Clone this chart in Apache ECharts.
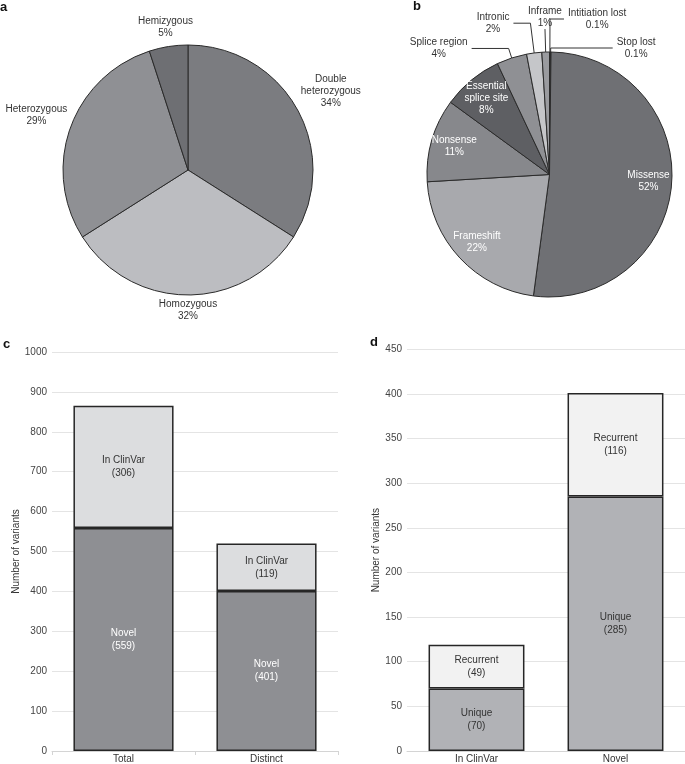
<!DOCTYPE html>
<html><head><meta charset="utf-8">
<script src="https://cdn.jsdelivr.net/npm/echarts@6/dist/echarts.min.js"></script>
<style>html,body{margin:0;padding:0;background:#fff}#c{width:685px;height:764px}</style>
</head><body><div id="c"></div>
<script>
// ---- data ----
const zygosityNames = ['Double\nheterozygous', 'Homozygous', 'Heterozygous', 'Hemizygous'];
const zygosityPct = [34, 32, 29, 5];
const consequenceNames = ['Intitiation lost', 'Stop lost', 'Missense', 'Frameshift', 'Nonsense', 'Essential\nsplice site', 'Splice region', 'Intronic', 'Inframe'];
const consequencePct = [0.1, 0.1, 52, 22, 11, 8, 4, 2, 1];
const countCategories = ['Total', 'Distinct'];
const novelCounts = [559, 401];
const clinvarCounts = [306, 119];
const recurrenceCategories = ['In ClinVar', 'Novel'];
const uniqueCounts = [70, 285];
const recurrentCounts = [49, 116];
const countAxis = { min: 0, max: 1000, interval: 100 };
const recurrenceAxis = { min: 0, max: 450, interval: 50 };

// ---- styles ----
const FONT = '"Liberation Sans", Arial, Helvetica, sans-serif';
const zygosityColors = ['#7b7c80', '#bcbdc1', '#8f9094', '#6e6f73'];
const consequenceColors = ['#48494d', '#333336', '#6f7074', '#a8a9ad', '#87888c', '#5e5f63', '#8f9094', '#c5c6c9', '#9a9b9f'];
const insideIdx = [2, 3, 4, 5];
const outerLines = { 0: [33, 14], 1: [4, 62], 6: [10, 37], 7: [30, 17], 8: [22, 0] };

const ctx = document.createElement('canvas').getContext('2d');
ctx.font = '10px ' + FONT;
function textW(s) { return Math.max.apply(null, String(s).split('\n').map(l => ctx.measureText(l).width)); }
function textH(s) { return String(s).split('\n').length * 12; }

const chart = echarts.init(document.getElementById('c'), null, { renderer: 'canvas' });

function pieALayout(p) {
  const pts = p.labelLinePoints;
  if (!pts) return {};
  const x0 = pts[0][0], y0 = pts[0][1];
  let dx = pts[1][0] - x0, dy = pts[1][1] - y0;
  const L = Math.hypot(dx, dy) || 1; dx /= L; dy /= L;
  const w = textW(p.text), h = textH(p.text);
  const t = 3 + Math.abs(dx) * w / 2 + Math.abs(dy) * h / 2;
  return { x: x0 + dx * t, y: y0 + dy * t, align: 'center', verticalAlign: 'middle' };
}
function pieBLayout(p) {
  if (p.dataIndex === 8 && p.labelLinePoints) {
    const q = p.labelLinePoints[1];
    return { x: q[0], y: q[1] - textH(p.text) / 2 - 1, align: 'center', verticalAlign: 'middle' };
  }
  return {};
}

const pieAData = zygosityNames.map((n, i) => ({ name: n, value: zygosityPct[i], itemStyle: { color: zygosityColors[i] } }));
const pieBData = consequenceNames.map((n, i) => {
  const o = { name: n, value: consequencePct[i], itemStyle: { color: consequenceColors[i] } };
  if (insideIdx.includes(i)) { o.label = { show: false }; o.labelLine = { show: false }; }
  else { o.labelLine = { length: outerLines[i][0], length2: outerLines[i][1] }; }
  return o;
});
const pieBOverlay = consequenceNames.map((n, i) => ({
  name: n, value: consequencePct[i],
  label: { show: insideIdx.includes(i) }
}));

function barLabel(color) {
  return { show: true, position: 'inside', color: color, fontSize: 10, lineHeight: 13, fontFamily: FONT,
    formatter: p => p.seriesName + '\n(' + p.value + ')' };
}
const barItem = c => ({ color: c, borderColor: '#262626', borderWidth: 1.5 });

const yAxisCommon = {
  type: 'value', axisLine: { show: false }, axisTick: { show: false },
  splitLine: { lineStyle: { color: '#e4e4e4', width: 1 } },
  axisLabel: { fontSize: 10, color: '#444', margin: 5, fontFamily: FONT, formatter: v => String(v) },
  name: 'Number of variants', nameLocation: 'middle', nameRotate: 90,
  nameTextStyle: { fontSize: 10, color: '#333', fontFamily: FONT }
};
const xAxisCommon = {
  type: 'category', axisLine: { lineStyle: { color: '#d4d4d4', width: 1 } },
  axisLabel: { fontSize: 10, color: '#333', margin: 3, fontFamily: FONT }
};

const option = {
  animation: false,
  textStyle: { fontFamily: FONT },
  title: [
    { text: 'a', left: 0, top: 1, padding: 0, textStyle: { fontSize: 13, fontWeight: 'bold', color: '#111', fontFamily: FONT } },
    { text: 'b', left: 413, top: 0, padding: 0, textStyle: { fontSize: 13, fontWeight: 'bold', color: '#111', fontFamily: FONT } },
    { text: 'c', left: 3, top: 338, padding: 0, textStyle: { fontSize: 13, fontWeight: 'bold', color: '#111', fontFamily: FONT } },
    { text: 'd', left: 370, top: 336, padding: 0, textStyle: { fontSize: 13, fontWeight: 'bold', color: '#111', fontFamily: FONT } }
  ],
  grid: [
    { left: 52, top: 352, width: 286, height: 401 },
    { left: 407, top: 349.25, width: 278, height: 402.75 }
  ],
  xAxis: [
    Object.assign({}, xAxisCommon, { gridIndex: 0, data: countCategories,
      axisTick: { show: true, length: 4, lineStyle: { color: '#d4d4d4' } } }),
    Object.assign({}, xAxisCommon, { gridIndex: 1, data: recurrenceCategories, axisTick: { show: false } })
  ],
  yAxis: [
    Object.assign({}, yAxisCommon, { gridIndex: 0, nameGap: 31 }, countAxis),
    Object.assign({}, yAxisCommon, { gridIndex: 1, nameGap: 26 }, recurrenceAxis)
  ],
  series: [
    {
      type: 'pie', center: [188, 170], radius: [0, 125], startAngle: 90, clockwise: true,
      avoidLabelOverlap: false, data: pieAData,
      itemStyle: { borderColor: '#2a2a2a', borderWidth: 1 },
      label: { show: true, position: 'outside', fontSize: 10, lineHeight: 12, color: '#333', fontFamily: FONT,
        width: 100, overflow: 'none', formatter: p => p.name + '\n' + p.value + '%' },
      labelLine: { show: true, length: 10, length2: 0, lineStyle: { color: 'rgba(0,0,0,0)' } },
      labelLayout: pieALayout,
      emphasis: { disabled: true }
    },
    {
      type: 'pie', center: [549.5, 174.5], radius: [0, 122.5], startAngle: 90, clockwise: true,
      avoidLabelOverlap: false, data: pieBData,
      itemStyle: { borderColor: '#2a2a2a', borderWidth: 1 },
      label: { show: true, position: 'outside', fontSize: 10, lineHeight: 12, color: '#333', fontFamily: FONT,
        distanceToLabelLine: 4,
        formatter: p => p.name.split('\n').map(s => '{c|' + s + '}').join('\n') + '\n{c|' + p.value + '%}',
        rich: { c: { align: 'center', fontSize: 10, lineHeight: 12, color: '#333', fontFamily: FONT } } },
      labelLine: { show: true, lineStyle: { color: '#333', width: 1 } },
      labelLayout: pieBLayout,
      emphasis: { disabled: true }
    },
    {
      type: 'pie', center: [549.5, 174.5], radius: [70, 122.5], startAngle: 90, clockwise: true,
      silent: true, z: 5, data: pieBOverlay,
      itemStyle: { color: 'rgba(0,0,0,0)', borderWidth: 0 },
      label: { position: 'inside', fontSize: 10, lineHeight: 12, color: '#fff', fontFamily: FONT,
        formatter: p => p.name + '\n' + p.value + '%' },
      labelLine: { show: false },
      emphasis: { disabled: true }
    },
    { type: 'bar', name: 'Novel', stack: 'c', xAxisIndex: 0, yAxisIndex: 0, data: novelCounts, barWidth: '70%',
      itemStyle: barItem('#8e8f93'), label: barLabel('#fff'), emphasis: { disabled: true } },
    { type: 'bar', name: 'In ClinVar', stack: 'c', xAxisIndex: 0, yAxisIndex: 0, data: clinvarCounts, barWidth: '70%',
      itemStyle: barItem('#dcdddf'), label: barLabel('#333'), emphasis: { disabled: true } },
    { type: 'bar', name: 'Unique', stack: 'd', xAxisIndex: 1, yAxisIndex: 1, data: uniqueCounts, barWidth: '69%',
      itemStyle: barItem('#b1b2b6'), label: barLabel('#333'), emphasis: { disabled: true } },
    { type: 'bar', name: 'Recurrent', stack: 'd', xAxisIndex: 1, yAxisIndex: 1, data: recurrentCounts, barWidth: '69%',
      itemStyle: barItem('#f2f2f2'), label: barLabel('#333'), emphasis: { disabled: true } }
  ]
};
chart.setOption(option);
</script>
</body></html>
